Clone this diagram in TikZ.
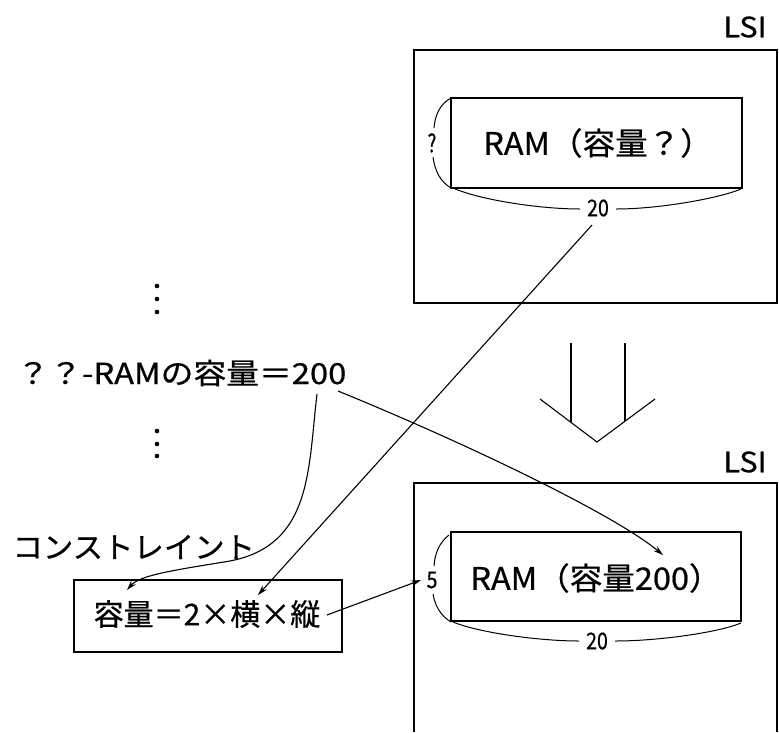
\documentclass[tikz,border=0pt]{standalone}
\usepackage{fontspec}
\setmainfont{Noto Sans CJK JP}[FakeBold=0.6]
\usetikzlibrary{arrows.meta}
\begin{document}
\begin{tikzpicture}[x=1pt,y=-1pt,line width=1.1pt,
  box/.style={draw,rectangle,inner sep=0pt,line width=1.3pt},
  lbl/.style={inner sep=0pt,anchor=center},
  ramtxt/.style={font=\fontsize{31}{31}\selectfont},
  bigtxt/.style={font=\fontsize{28}{28}\selectfont},
  smalltxt/.style={font=\fontsize{23}{23}\selectfont},
  arr/.style={-{Stealth[length=10pt,width=6pt]}},
  brace/.style={line width=1pt}]
\useasboundingbox (0,0) rectangle (779,732);

% top LSI
\node[box,minimum width=363pt,minimum height=253pt] (lsi1) at (595.5,176.5) {};
\node[lbl,bigtxt] (lsi1l) at (745,27) {\scalebox{1.1}[1]{LSI}};
\node[box,minimum width=291pt,minimum height=90pt] (ram1) at (596.5,143) {};
\node[lbl,ramtxt] (ram1t) at (598,143) {\scalebox{1.05}[1]{RAM（容量？）}};
\node[lbl,font=\fontsize{25}{25}\selectfont] (q1) at (432,143) {\scalebox{0.75}[1]{?}};
\node[lbl,smalltxt] (w1) at (598,208) {\scalebox{0.85}[1]{20}};
\draw[brace] (451,98) .. controls (440,104) and (435,115) .. (434,128);
\draw[brace] (433,157) .. controls (435,172) and (441,182) .. (451,188);
\draw[brace] (453,188) .. controls (480,200) and (540,209) .. (580,209);
\draw[brace] (616,209) .. controls (660,209) and (720,198) .. (741,189);

% big down arrow
\draw (571,343) -- (571,422);
\draw (625,343) -- (625,421);
\draw (540,399) -- (597,442) -- (655,399);

% bottom LSI
\draw[line width=1.3pt] (414,732) -- (414,483) -- (777,483) -- (777,732);
\node[lbl,bigtxt] (lsi2l) at (745,462) {\scalebox{1.1}[1]{LSI}};
\node[box,minimum width=290pt,minimum height=89pt] (ram2) at (596,576.5) {};
\node[lbl,ramtxt] (ram2t) at (596,578) {\scalebox{1.05}[1]{RAM（容量200）}};
\node[lbl,smalltxt] (h2) at (432,580) {\scalebox{0.85}[1]{5}};
\node[lbl,smalltxt] (w2) at (597,641) {\scalebox{0.85}[1]{20}};
\draw[brace] (449,535) .. controls (440,542) and (435,552) .. (434,566);
\draw[brace] (433,594) .. controls (435,606) and (441,616) .. (451,622);
\draw[brace] (453,622) .. controls (480,633) and (540,641) .. (579,641);
\draw[brace] (615,641) .. controls (660,641) and (720,632) .. (741,623);

% left side
\fill (157,286) circle (2.3pt) (157,299) circle (2.3pt) (157,312) circle (2.3pt);
\fill (157,431) circle (2.3pt) (157,444) circle (2.3pt) (157,456) circle (2.3pt);
\node[lbl,font=\fontsize{29}{29}\selectfont,anchor=west] (fact) at (16,373) {\scalebox{1.13}[1]{？？-RAMの容量＝200}};
\node[lbl,font=\fontsize{29.5}{29.5}\selectfont,anchor=west] (cons) at (12,547) {\scalebox{1.03}[1]{コンストレイント}};
\node[box,minimum width=268pt,minimum height=72pt] (cbox) at (208,616) {};
\node[lbl,font=\fontsize{30}{30}\selectfont] (ctxt) at (207,614) {容量＝2×横×縦};

% connectors
\coordinate (f200r) at (338,391);
\coordinate (f200b) at (317,394);
\coordinate (cA) at (127,590);
\coordinate (cB) at (258,595);
\coordinate (t20) at (592,225);
\coordinate (cR) at (327,615);
\coordinate (r5) at (421,580);
\coordinate (ramIn) at (663,555);
\draw[arr] (f200r) .. controls (470,445) and (615,515) .. (ramIn);
\draw[arr] (f200b) .. controls (308,470) and (312,545) .. (230,561) .. controls (175,570) and (140,575) .. (cA);
\draw[arr] (t20) -- (cB);
\draw[arr] (cR) -- (r5);
\end{tikzpicture}
\end{document}
